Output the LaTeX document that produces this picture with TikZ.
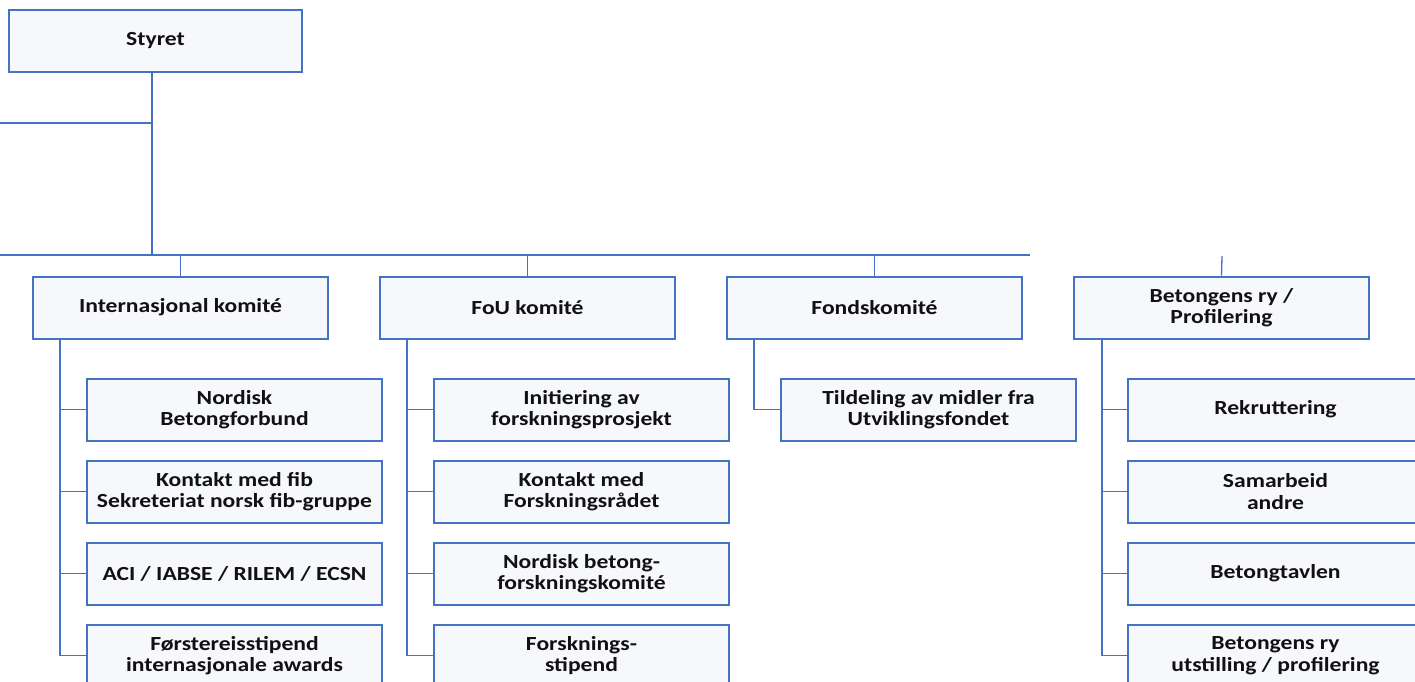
\documentclass[tikz,border=0pt]{standalone}
\usepackage{fontspec}
\setmainfont{Carlito}
\newfontfamily\boxfont[FakeStretch=1.18]{Carlito}
\definecolor{lineblue}{HTML}{4472C4}
\definecolor{boxfill}{HTML}{F6F8FC}
\definecolor{txt}{HTML}{111111}
\begin{document}
\begin{tikzpicture}[x=1pt,y=-1pt,
  orgbox/.style={draw=lineblue, line width=2pt, fill=boxfill, minimum width=295pt, minimum height=62pt,
    inner sep=0pt, align=center, text=txt, font=\boxfont\fontsize{20}{21.5}\selectfont\bfseries},
  conn/.style={draw=lineblue, line width=1.3pt}]
\useasboundingbox (0,0) rectangle (1415,681);
\clip (0,0) rectangle (1415,681);
% top
\node[orgbox, minimum width=293pt] (styret) at (155.5,41) {Styret};
\coordinate (sbot) at (152,72);
\coordinate (sleft) at (0,123);
\coordinate (busL) at (0,255);
\coordinate (busR) at (1030,255);
\coordinate (bstub) at (1222,256);
\draw[conn] (sbot) -- (sbot |- busL);
\draw[conn] (sbot |- sleft) -- (sleft);
\draw[conn] (busL) -- (busR);
% level 2
\node[orgbox] (intl) at (180.5,307.5) {Internasjonal komité};
\node[orgbox] (fou) at (527.5,307.5) {FoU komité};
\node[orgbox] (fond) at (874.5,307.5) {Fondskomité};
\node[orgbox] (bet) at (1221.5,307.5) {Betongens ry /\\Profilering};
\draw[conn] (intl.north) -- (intl.north |- busL);
\draw[conn] (fou.north) -- (fou.north |- busL);
\draw[conn] (fond.north) -- (fond.north |- busL);
\draw[conn] (bet.north) -- (bstub);
% Internasjonal children
\node[orgbox] (i1) at (234.5,409.5) {Nordisk\\Betongforbund};
\node[orgbox] (i2) at (234.5,491.5) {Kontakt med fib\\Sekreteriat norsk fib-gruppe};
\node[orgbox] (i3) at (234.5,573.5) {ACI / IABSE / RILEM / ECSN};
\node[orgbox] (i4) at (234.5,655.5) {Førstereisstipend\\internasjonale awards};
% FoU children
\node[orgbox] (f1) at (581.5,409.5) {Initiering av\\forskningsprosjekt};
\node[orgbox] (f2) at (581.5,491.5) {Kontakt med\\Forskningsrådet};
\node[orgbox] (f3) at (581.5,573.5) {Nordisk betong-\\forskningskomité};
\node[orgbox] (f4) at (581.5,655.5) {Forsknings-\\stipend};
% Fond child
\node[orgbox] (d1) at (928.5,409.5) {Tildeling av midler fra\\Utviklingsfondet};
% Betongens children
\node[orgbox] (b1) at (1275.5,409.5) {Rekruttering};
\node[orgbox] (b2) at (1275.5,491.5) {Samarbeid\\andre};
\node[orgbox] (b3) at (1275.5,573.5) {Betongtavlen};
\node[orgbox] (b4) at (1275.5,655.5) {Betongens ry\\utstilling / profilering};
% spines
\coordinate (ispine) at (60,338.5);
\coordinate (fspine) at (407,338.5);
\coordinate (dspine) at (754,338.5);
\coordinate (bspine) at (1102,338.5);
\draw[conn] (ispine) -- (ispine |- i4.west) -- (i4.west);
\foreach \c in {i1,i2,i3}{\draw[conn] (ispine |- \c.west) -- (\c.west);}
\draw[conn] (fspine) -- (fspine |- f4.west) -- (f4.west);
\foreach \c in {f1,f2,f3}{\draw[conn] (fspine |- \c.west) -- (\c.west);}
\draw[conn] (dspine) -- (dspine |- d1.west) -- (d1.west);
\draw[conn] (bspine) -- (bspine |- b4.west) -- (b4.west);
\foreach \c in {b1,b2,b3}{\draw[conn] (bspine |- \c.west) -- (\c.west);}
\end{tikzpicture}
\end{document}
